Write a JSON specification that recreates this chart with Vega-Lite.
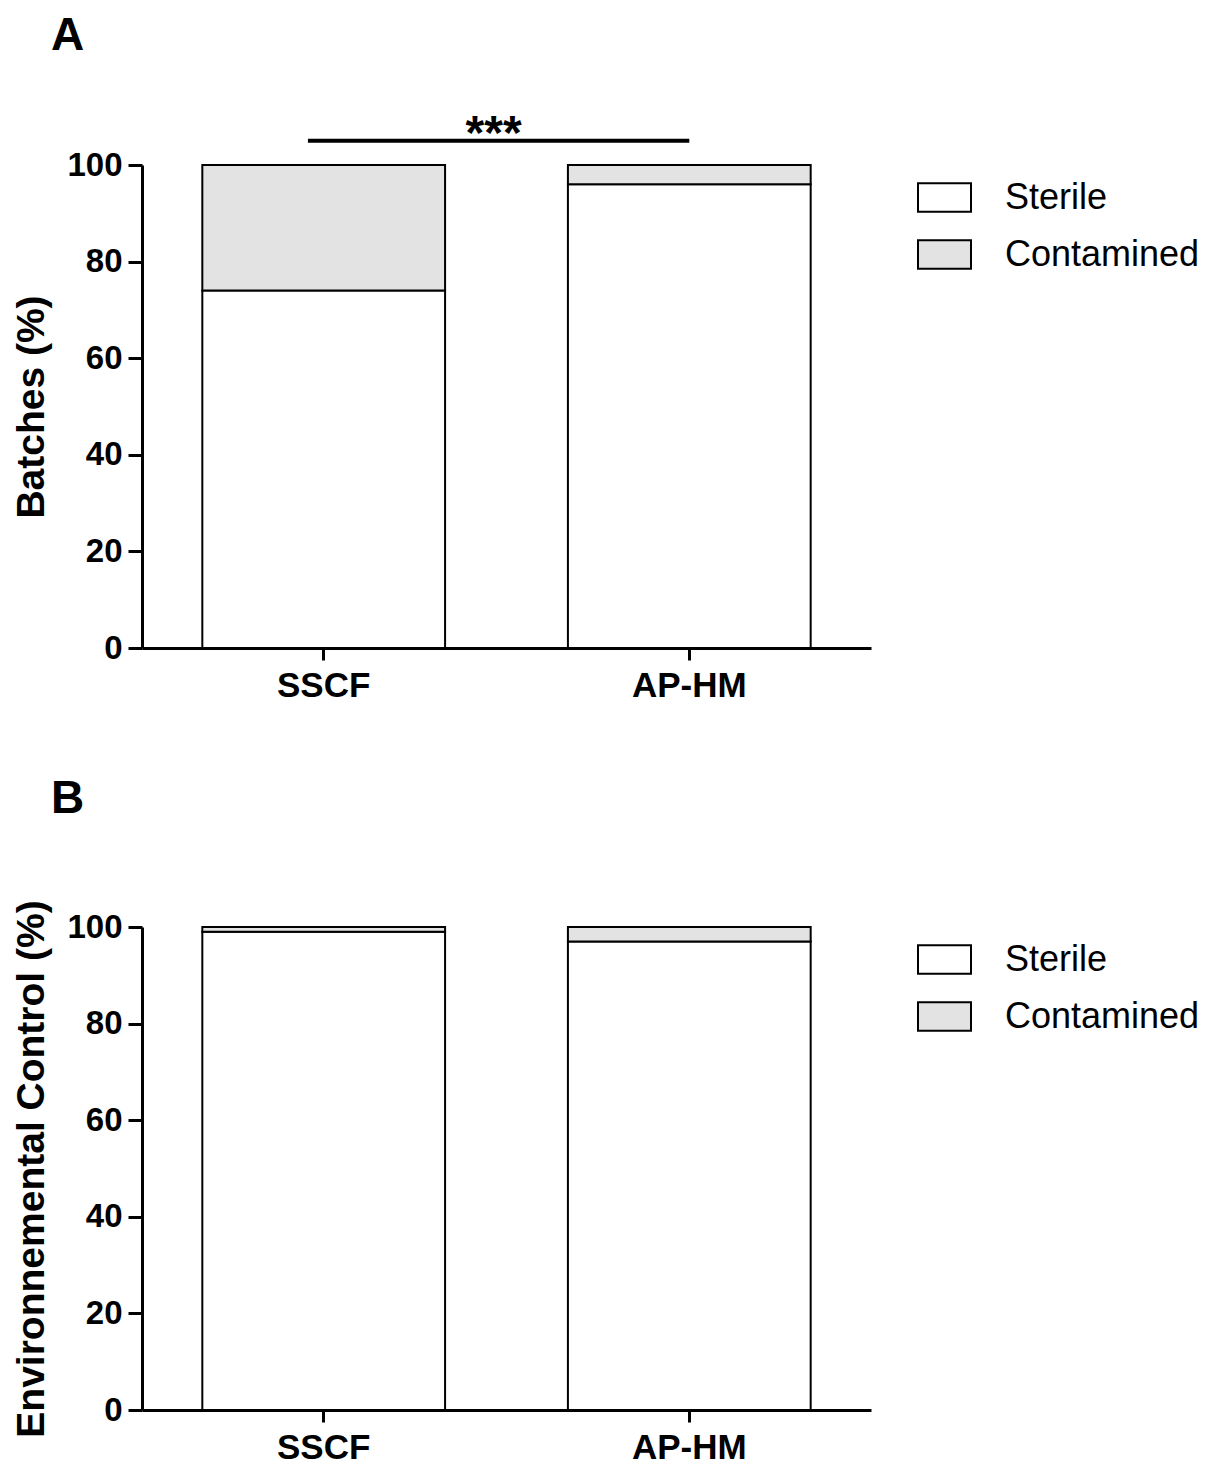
{
  "$schema": "https://vega.github.io/schema/vega-lite/v6.json",
  "padding": {"left": 12, "top": 12, "right": 2, "bottom": 2},
  "background": "white",
  "spacing": 72,
  "config": {
    "view": {"stroke": null},
    "font": "Liberation Sans",
    "title": {"font": "Liberation Sans", "fontSize": 46, "fontWeight": "bold", "anchor": "start", "color": "black", "frame": "group"},
    "axis": {
      "domainColor": "black", "domainWidth": 3, "tickColor": "black", "tickWidth": 3, "tickSize": 14,
      "labelFont": "Liberation Sans", "labelFontWeight": "bold", "labelColor": "black",
      "titleFont": "Liberation Sans", "titleFontWeight": "bold", "titleColor": "black",
      "grid": false
    },
    "axisY": {"labelFontSize": 33, "labelPadding": 6, "titleFontSize": 39, "titlePadding": 15},
    "axisX": {"labelFontSize": 35, "labelPadding": 8, "tickSize": 12, "labelAngle": 0},
    "legend": {
      "labelFont": "Liberation Sans", "labelFontSize": 36, "labelColor": "black", "labelLimit": 0,
      "symbolStrokeColor": "black", "symbolStrokeWidth": 2, "symbolOpacity": 1
    }
  },
  "resolve": {"scale": {"fill": "independent"}, "legend": {"fill": "independent"}},
  "vconcat": [
    {
      "title": {"text": "A", "dx": -91, "offset": 51},
      "width": 729,
      "height": 483,
      "layer": [
        {
          "data": {"values": [
            {"site": "SSCF", "status": "Sterile", "pct": 74},
            {"site": "SSCF", "status": "Contamined", "pct": 26},
            {"site": "AP-HM", "status": "Sterile", "pct": 96},
            {"site": "AP-HM", "status": "Contamined", "pct": 4}
          ]},
          "mark": {"type": "bar", "stroke": "black", "strokeWidth": 2},
          "encoding": {
            "x": {"field": "site", "type": "nominal", "scale": {"domain": ["SSCF", "AP-HM"], "paddingInner": 0.336, "paddingOuter": 0.165}, "axis": {"title": null}},
            "y": {"field": "pct", "type": "quantitative", "stack": "zero", "scale": {"domain": [0, 100], "nice": false}, "axis": {"title": "Batches (%)", "values": [0, 20, 40, 60, 80, 100]}},
            "fill": {"field": "status", "type": "nominal", "scale": {"domain": ["Sterile", "Contamined"], "range": ["#ffffff", "#e3e3e3"]},
              "legend": {"title": null, "orient": "none", "legendX": 775, "legendY": 5, "padding": 0, "rowPadding": 11, "labelOffset": 33, "labelLimit": 0,
                "symbolType": "M-1,-0.54H1V0.54H-1Z", "symbolSize": 2809}},
            "order": {"field": "status", "sort": "descending"}
          }
        },
        {
          "data": {"values": [{"from": "SSCF", "to": "AP-HM", "sig": "***"}]},
          "mark": {"type": "rule", "color": "black", "strokeWidth": 4},
          "encoding": {
            "x": {"field": "from", "type": "nominal", "bandPosition": 0.435},
            "x2": {"field": "to"},
            "y": {"datum": 105}
          }
        },
        {
          "data": {"values": [{"from": "SSCF", "to": "AP-HM", "sig": "***"}]},
          "mark": {"type": "text", "color": "black", "fontSize": 48, "fontWeight": "bold", "font": "Liberation Sans", "baseline": "alphabetic", "align": "center", "dy": 8},
          "encoding": {
            "x": {"field": "from", "type": "nominal", "bandPosition": 1.2},
            "y": {"datum": 105},
            "text": {"field": "sig"}
          }
        }
      ]
    },
    {
      "title": {"text": "B", "dx": -91, "offset": 77},
      "width": 729,
      "height": 483,
      "data": {"values": [
        {"site": "SSCF", "status": "Sterile", "pct": 99},
        {"site": "SSCF", "status": "Contamined", "pct": 1},
        {"site": "AP-HM", "status": "Sterile", "pct": 97},
        {"site": "AP-HM", "status": "Contamined", "pct": 3}
      ]},
      "mark": {"type": "bar", "stroke": "black", "strokeWidth": 2},
      "encoding": {
        "x": {"field": "site", "type": "nominal", "scale": {"domain": ["SSCF", "AP-HM"], "paddingInner": 0.336, "paddingOuter": 0.165}, "axis": {"title": null}},
        "y": {"field": "pct", "type": "quantitative", "stack": "zero", "scale": {"domain": [0, 100], "nice": false}, "axis": {"title": "Environnemental Control (%)", "values": [0, 20, 40, 60, 80, 100]}},
        "fill": {"field": "status", "type": "nominal", "scale": {"domain": ["Sterile", "Contamined"], "range": ["#ffffff", "#e3e3e3"]},
          "legend": {"title": null, "orient": "none", "legendX": 775, "legendY": 5, "padding": 0, "rowPadding": 11, "labelOffset": 33, "labelLimit": 0,
            "symbolType": "M-1,-0.54H1V0.54H-1Z", "symbolSize": 2809}},
        "order": {"field": "status", "sort": "descending"}
      }
    }
  ]
}
